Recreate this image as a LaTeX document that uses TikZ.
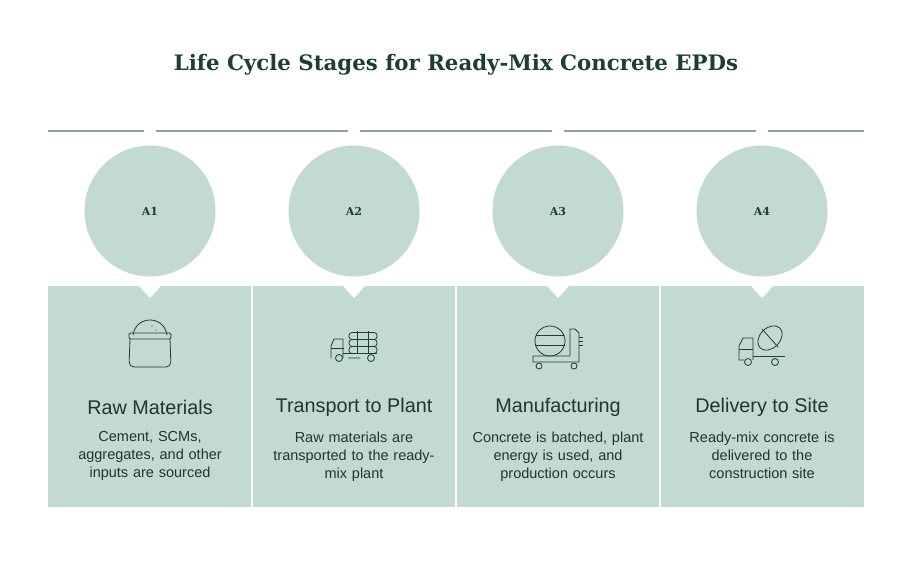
\documentclass[tikz,border=0pt]{standalone}
\usepackage{fontspec}
\setmainfont{Liberation Sans}
\newfontfamily\slab{DejaVu Serif}
\definecolor{panel}{HTML}{C2D9D4}
\definecolor{rule}{HTML}{8FA19C}
\definecolor{ink}{HTML}{1F3D33}
\definecolor{txt}{HTML}{26332F}
\tikzset{
  stage/.style={font=\fontsize{19.8}{22}\selectfont, text=txt, anchor=center},
  desc/.style={font=\fontsize{14.5}{18}\selectfont, text=txt, align=center, text width=190pt, anchor=north},
  badge/.style={circle, fill=panel, minimum size=131pt, inner sep=0pt, font=\slab\bfseries\fontsize{11}{12}\selectfont, text=ink},
  icon/.style={draw=ink, line width=0.8pt, line join=round}
}
\begin{document}
\begin{tikzpicture}[x=1pt,y=-1pt]
	\useasboundingbox (0,0) rectangle (912,580);
	\node[font=\slab\bfseries\fontsize{21.3}{24}\selectfont, text=ink] (title) at (456,65) {Life Cycle Stages for Ready-Mix Concrete EPDs};
	\coordinate (L) at (48,131);
	\coordinate (R) at (864,131);
	\draw [rule, line width=1.2pt] (L)--(R);
	\fill [panel] (48,286) rectangle (864,507);
	\foreach \i/\t/\d in {1/Raw Materials/{Cement, SCMs,\\aggregates, and other\\inputs are sourced},
	                      2/Transport to Plant/{Raw materials are\\transported to the ready-\\mix plant},
	                      3/Manufacturing/{Concrete is batched, plant\\energy is used, and\\production occurs},
	                      4/Delivery to Site/{Ready-mix concrete is\\delivered to the\\construction site}} {
		\pgfmathsetmacro{\cx}{150+204*(\i-1)}
		\fill [white] (\cx,131) circle (6);
		\node[badge] (A\i) at (\cx,211) {A\i};
		\fill [white] (\cx-11,286) -- (\cx+11,286) -- (\cx,298) -- cycle;
		\node[stage] (s\i) at (\cx,407) {\t};
		\node[desc] (d\i) at (\cx,428) {\d};
	}
	\foreach \x in {252,456,660} \draw [white, line width=1.5pt] (\x,286)--(\x,507);
	% icons
	\begin{scope}[shift={(150,344)}]
		\draw [icon] (-17,-9) .. controls (-14,-29) and (14,-29) .. (17,-9);
		\draw [icon, rounded corners=1.5pt] (-21,-11) rectangle (21,-5);
		\draw [icon, rounded corners=5pt] (-20,-5) -- (-21,23) -- (21,23) -- (20,-5);
		\fill [ink] (2,-18) circle (0.6) (6,-14) circle (0.6);
	\end{scope}
	\begin{scope}[shift={(354,346)}]
		\draw [icon] (-23,12) -- (-23,0) -- (-20,-7) -- (-11,-7) -- (-11,12);
		\draw [icon] (-23,2) -- (-10,2);
		\draw [icon] (-11,7) -- (23,7);
		\foreach \y in {-10,-3,4} \draw [icon, rounded corners=3pt] (-5,\y-3.5) rectangle (23,\y+3.5);
		\draw [icon] (3,-15) -- (3,7) (14,-15) -- (14,7);
		\draw [icon] (-15,12) circle (3.5) (17,12) circle (3.5) (-6,12) -- (6,12);
	\end{scope}
	\begin{scope}[shift={(558,345)}]
		\draw [icon] (-8,-4) circle (15);
		\draw [icon] (-22,-10) -- (6,-10) (-23,0) -- (7,0);
		\draw [icon] (-25,11) -- (12,11) -- (12,-16) -- (17,-16) -- (21,-12) -- (21,17) -- (-25,17) -- cycle;
		\draw [icon] (21,-8) -- (25,-8) (21,-4) -- (25,-4) (21,0) -- (25,0);
		\draw [icon] (-19,21) circle (3) (16,21) circle (3);
	\end{scope}
	\begin{scope}[shift={(762,346)}]
		\draw [icon] (-23,14) -- (-23,0) -- (-19,-8) -- (-9,-8) -- (-9,14);
		\draw [icon] (-23,3) -- (-9,3);
		\draw [icon] (-9,10) -- (23,10);
		\draw [icon, rotate around={45:(8,-8)}] (8,-8) ellipse (14 and 10);
		\draw [icon] (0,-17) -- (16,1);
		\draw [icon] (-14,16) circle (3.5) (13,16) circle (3.5) (-23,14) -- (-18,14);
	\end{scope}
\end{tikzpicture}
\end{document}
